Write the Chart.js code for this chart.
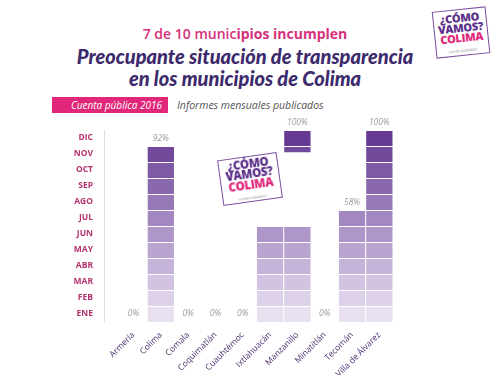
<!DOCTYPE html>
<html>
<head>
<meta charset="utf-8">
<script src="https://cdn.jsdelivr.net/npm/chart.js@4"></script>
<style>
  html, body { margin: 0; padding: 0; background: #fff; }
  body { width: 500px; height: 375px; position: relative; overflow: hidden; font-family: "Open Sans", sans-serif; }
  .t1 { position: absolute; left: 0; width: 490px; top: 24px; text-align: center; color: #d6307c; font-size: 14px; font-weight: 600; }
  .t1 b { font-weight: 700; }
  .t2 { position: absolute; left: 0; width: 490px; top: 45px; text-align: center; color: #3d2a6c; font-family: Lato, sans-serif; font-size: 20px; font-weight: 900; font-style: italic; line-height: 22px; }
  .banner { position: absolute; left: 52px; top: 97px; width: 116px; height: 16px; background: #e0277a; color: #fff; font-style: italic; font-size: 10px; line-height: 16px; text-align: right; box-sizing: border-box; padding-right: 6px; }
  .sub { position: absolute; left: 177px; top: 97px; line-height: 16px; font-size: 10.5px; font-style: italic; color: #555; }
  .logo { position: absolute; border: 1.5px solid #7a4fa0; background: #fff; text-align: center; font-weight: 800; line-height: 0.9; color: #5b2f8a; letter-spacing: -0.3px; }
  .logo .c { color: #e0277a; }
  .logo .s { color: #999; font-weight: 400; }
  #wrap { position: absolute; left: 0; top: 118px; width: 420px; height: 257px; }
</style>
</head>
<body>
<div class="t1">7 de 10 munic<b>ipios incumplen</b></div>
<div class="t2">Preocupante situación de transparencia<br>en los municipios de Colima</div>
<div class="banner">Cuenta pública 2016</div>
<div class="sub">Informes mensuales publicados</div>
<div id="wrap"><canvas id="chart"></canvas></div>
<div class="logo" style="left:434px;top:9px;width:52px;padding:3px 0 2px;transform:rotate(-6deg);font-size:11px;">¿CÓMO<br>VAMOS?<br><span class="c">COLIMA</span><br><span class="s" style="font-size:4px;">comité ciudadano</span></div>
<div class="logo" style="left:220px;top:156px;width:58px;padding:2px 0 1px;transform:rotate(-8deg);font-size:11.5px;">¿CÓMO<br>VAMOS?<br><span class="c">COLIMA</span><br><span class="s" style="font-size:4px;">comité ciudadano</span></div>
<script>
const months = ['ENE', 'FEB', 'MAR', 'ABR', 'MAY', 'JUN', 'JUL', 'AGO', 'SEP', 'OCT', 'NOV', 'DIC'];
const municipios = ['Armería', 'Colima', 'Comala', 'Coquimatlán', 'Cuauhtémoc', 'Ixtlahuacán', 'Manzanillo', 'Minatitlán', 'Tecomán', 'Villa de Álvarez'];
const pctLabels = ['0%', '92%', '0%', '0%', '0%', '', '100%', '0%', '58%', '100%'];

// share of each month cell that is filled, per municipio (ENE..DIC)
const published = {
  'Armería':          [0, 0, 0, 0, 0, 0, 0, 0, 0, 0, 0, 0],
  'Colima':           [1, 1, 1, 1, 1, 1, 1, 1, 1, 1, 1, 0],
  'Comala':           [0, 0, 0, 0, 0, 0, 0, 0, 0, 0, 0, 0],
  'Coquimatlán':      [0, 0, 0, 0, 0, 0, 0, 0, 0, 0, 0, 0],
  'Cuauhtémoc':       [0, 0, 0, 0, 0, 0, 0, 0, 0, 0, 0, 0],
  'Ixtlahuacán':      [1, 1, 1, 1, 1, 1, 0, 0, 0, 0, 0, 0],
  'Manzanillo':       [1, 1, 1, 1, 1, 1, 0, 0, 0, 0, 0.4, 1],
  'Minatitlán':       [0, 0, 0, 0, 0, 0, 0, 0, 0, 0, 0, 0],
  'Tecomán':          [1, 1, 1, 1, 1, 1, 1, 0, 0, 0, 0, 0],
  'Villa de Álvarez': [1, 1, 1, 1, 1, 1, 1, 1, 1, 1, 1, 1]
};

const monthColors = ['#e8e0ef', '#dcd1e8', '#d1c3e1', '#c5b4d9', '#baa5d1', '#ae96c9', '#a287c0', '#9678b7', '#8a68ad', '#7e59a4', '#72499b', '#663a92'];

const datasets = months.map((m, k) => ({
  label: m,
  data: municipios
    .map((name, i) => {
      const f = published[name][k];
      return f > 0 ? { x: i, y: [k + 1 - f, k + 1] } : null;
    })
    .filter(Boolean),
  backgroundColor: monthColors[k],
  borderColor: '#fff',
  borderWidth: { top: 1, left: 0.5, right: 0.5, bottom: 0 },
  borderSkipped: false,
  inflateAmount: 0,
  grouped: false,
  barPercentage: 1,
  categoryPercentage: 1
}));

const pctPlugin = {
  id: 'pct',
  afterDatasetsDraw(chart) {
    const { ctx, scales } = chart;
    ctx.save();
    ctx.font = 'italic 8.5px "Open Sans"';
    ctx.fillStyle = '#9a9a9a';
    ctx.textAlign = 'center';
    municipios.forEach((name, i) => {
      const txt = pctLabels[i];
      if (!txt) return;
      let top = 0;
      published[name].forEach((v, k) => { if (v > 0) top = k + 1; });
      const x = scales.x.getPixelForValue(i);
      if (top === 0) {
        ctx.textBaseline = 'middle';
        ctx.fillText(txt, x, scales.y.getPixelForValue(0.5));
      } else {
        ctx.textBaseline = 'alphabetic';
        ctx.fillText(txt, x, scales.y.getPixelForValue(top) - 5);
      }
    });
    ctx.restore();
  }
};

new Chart(document.getElementById('chart'), {
  type: 'bar',
  data: { datasets },
  plugins: [pctPlugin],
  options: {
    responsive: true,
    maintainAspectRatio: false,
    animation: false,
    layout: { padding: { top: 12, right: 27, left: 0, bottom: 0 } },
    plugins: { legend: { display: false }, tooltip: { enabled: false } },
    scales: {
      x: {
        type: 'linear',
        offset: false,
        min: -1.08,
        max: 9.5,
        afterBuildTicks(scale) { scale.ticks = municipios.map((_, i) => ({ value: i })); },
        afterFit(scale) {
          scale.height = 53;
          scale.paddingLeft = 0;
          scale.paddingRight = 0;
        },
        grid: { display: false },
        border: { display: false },
        ticks: {
          autoSkip: false,
          maxRotation: 45,
          minRotation: 45,
          padding: 0,
          color: '#4b2d6e',
          font: { family: 'Open Sans', size: 8.5 },
          callback: (v) => municipios[v]
        }
      },
      y: {
        type: 'linear',
        min: 0,
        max: 12,
        afterBuildTicks(scale) { scale.ticks = months.map((_, k) => ({ value: k + 0.5 })); },
        afterFit(scale) {
          scale.width = 104;
          scale.paddingTop = 0;
          scale.paddingBottom = 0;
        },
        grid: { display: false },
        border: { display: true, color: '#dedede', width: 1 },
        ticks: {
          padding: 3,
          color: '#b3336f',
          font: { family: 'Open Sans', size: 8.5, weight: 'bold' },
          callback: (v) => months[Math.floor(v)]
        }
      }
    }
  }
});
</script>
</body>
</html>
